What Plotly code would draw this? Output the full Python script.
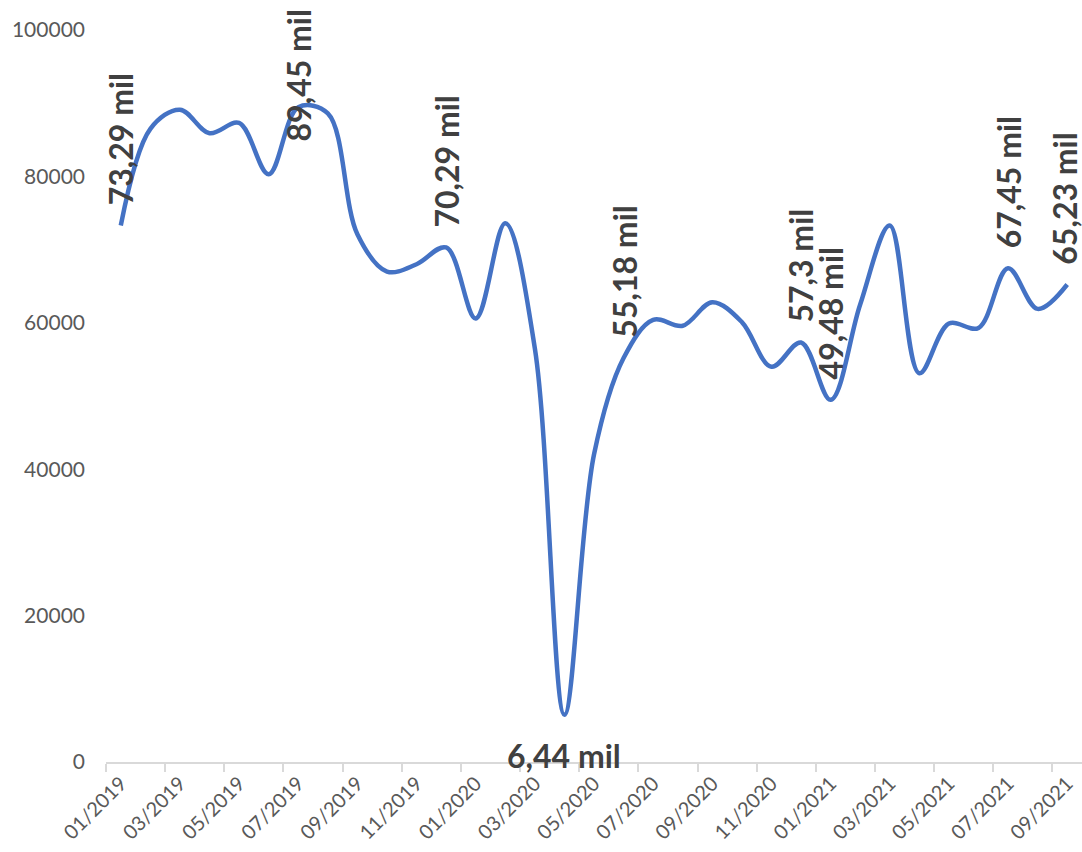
import plotly.graph_objects as go

months = [
    "01/2019", "02/2019", "03/2019", "04/2019", "05/2019", "06/2019", "07/2019", "08/2019",
    "09/2019", "10/2019", "11/2019", "12/2019", "01/2020", "02/2020", "03/2020", "04/2020",
    "05/2020", "06/2020", "07/2020", "08/2020", "09/2020", "10/2020", "11/2020", "12/2020",
    "01/2021", "02/2021", "03/2021", "04/2021", "05/2021", "06/2021", "07/2021", "08/2021",
    "09/2021",
]
values = [
    73290, 86500, 89100, 85900, 87300, 80300, 89450, 88600,
    72100, 67000, 68000, 70290, 60600, 73600, 56500, 6440,
    42000, 55180, 60400, 59600, 62800, 60100, 54000, 57300,
    49480, 62500, 73300, 53100, 59900, 59300, 67450, 61900,
    65230,
]
# labelled points (index -> text)
label_idx = [0, 6, 11, 15, 17, 23, 24, 30, 32]
label_txt = ["73,29 mil", "89,45 mil", "70,29 mil", "6,44 mil", "55,18 mil",
             "57,3 mil", "49,48 mil", "67,45 mil", "65,23 mil"]
tick_labels = months[::2]
y_ticks = [0, 20000, 40000, 60000, 80000, 100000]

x = list(range(len(months)))

fig = go.Figure()
fig.add_trace(go.Scatter(
    x=x, y=values, mode="lines",
    line=dict(color="#4472C4", width=4.5, shape="spline", smoothing=1.0),
    hoverinfo="skip", showlegend=False,
))

label_font = dict(family="Lato", size=32, color="#404040", weight="bold")
below = {15}
clamped = {6}
last = len(months) - 1
for i, t in zip(label_idx, label_txt):
    if i in below:
        fig.add_annotation(x=x[i], y=values[i], text=t, showarrow=False,
                           xanchor="center", yanchor="top", yshift=-19,
                           font=label_font)
    elif i in clamped:
        fig.add_annotation(x=x[i], y=values[i], text=t, showarrow=False,
                           textangle=-90, xanchor="center", yanchor="bottom",
                           yshift=-36, font=label_font)
    else:
        fig.add_annotation(x=x[i], y=values[i], text=t, showarrow=False,
                           textangle=-90, xanchor="center", yanchor="bottom",
                           yshift=19, xshift=(-3 if i == last else 0),
                           borderpad=0, font=label_font)

fig.update_layout(
    width=1082, height=852,
    margin=dict(l=106, r=0, t=30, b=90),
    paper_bgcolor="white", plot_bgcolor="white",
    font=dict(family="Lato", color="#595959"),
    xaxis=dict(
        range=[-0.5, len(months) - 0.5],
        tickmode="array", tickvals=x[::2], ticktext=tick_labels,
        tickangle=-45, ticks="", showgrid=False, zeroline=False,
        showline=True, linecolor="#D9D9D9", linewidth=2,
        tickfont=dict(size=20, color="#595959"),
        minor=dict(ticks="outside", tick0=-0.5, dtick=2, ticklen=8,
                   tickcolor="#D9D9D9", tickwidth=2, showgrid=False),
    ),
    yaxis=dict(
        range=[0, 100000], tickmode="array", tickvals=y_ticks,
        tickformat="d", showgrid=False, zeroline=False, showline=False,
        ticks="", ticklabelstandoff=20,
        tickfont=dict(size=21, color="#595959"),
    ),
)

fig.write_html(
    "out.html",
    config={"displayModeBar": False},
    post_script="document.body.style.margin='0';document.body.style.overflow='hidden';",
)
